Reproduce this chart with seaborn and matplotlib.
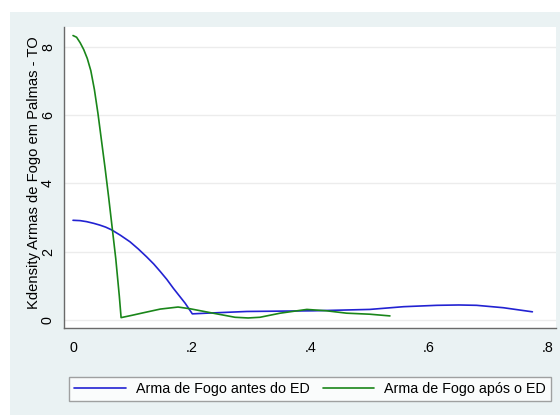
import matplotlib
matplotlib.use("Agg")
import matplotlib.pyplot as plt
from matplotlib.patches import Rectangle
import pandas as pd
import seaborn as sns

# Kernel density estimates (x = rate, y = density)
antes_x = [0.0, 0.012, 0.023, 0.035, 0.045, 0.055, 0.065, 0.08, 0.096, 0.11,
           0.124, 0.136, 0.147, 0.158, 0.169, 0.179, 0.189, 0.196, 0.201,
           0.225, 0.293, 0.405, 0.5, 0.557, 0.613, 0.65, 0.68, 0.725, 0.774]
antes_y = [2.92, 2.91, 2.88, 2.83, 2.78, 2.72, 2.64, 2.48, 2.29, 2.08,
           1.85, 1.64, 1.42, 1.19, 0.93, 0.71, 0.49, 0.31, 0.18,
           0.20, 0.25, 0.27, 0.31, 0.39, 0.43, 0.44, 0.43, 0.36, 0.24]

apos_x = [0.0, 0.006, 0.012, 0.018, 0.024, 0.03, 0.036, 0.042, 0.048, 0.054,
          0.06, 0.066, 0.072, 0.078, 0.081, 0.10, 0.118, 0.147, 0.177, 0.197,
          0.236, 0.273, 0.295, 0.315, 0.349, 0.394, 0.427, 0.461, 0.5, 0.534]
apos_y = [8.33, 8.28, 8.12, 7.92, 7.66, 7.3, 6.75, 6.05, 5.25, 4.45,
          3.6, 2.7, 1.8, 0.7, 0.07, 0.14, 0.21, 0.32, 0.38, 0.33,
          0.20, 0.08, 0.06, 0.08, 0.20, 0.31, 0.27, 0.20, 0.17, 0.12]

series = ["Arma de Fogo antes do ED", "Arma de Fogo após o ED"]
x_ticks = [0, 0.2, 0.4, 0.6, 0.8]
x_tick_labels = ["0", ".2", ".4", ".6", ".8"]
y_ticks = [0, 2, 4, 6, 8]
y_tick_labels = ["0", "2", "4", "6", "8"]
y_label = "Kdensity Armas de Fogo em Palmas - TO"

df = pd.concat([
    pd.DataFrame({"x": antes_x, "y": antes_y, "serie": series[0]}),
    pd.DataFrame({"x": apos_x, "y": apos_y, "serie": series[1]}),
], ignore_index=True)

sns.set_theme(style="white")
plt.rcParams["font.family"] = ["Liberation Sans", "DejaVu Sans"]

W, H = 560, 415
fig = plt.figure(figsize=(W / 100, H / 100), dpi=100, facecolor="white")
fig.patches.append(Rectangle((10 / W, 0), 1 - 10 / W, 1 - 12 / H,
                             transform=fig.transFigure, facecolor="#eaf2f3",
                             edgecolor="none", zorder=-10))

ax = fig.add_axes([64 / W, 1 - 328 / H, (556 - 64) / W, (328 - 27) / H])
ax.set_facecolor("white")

colors = ["#2222d2", "#1a861a"]
sns.lineplot(data=df, x="x", y="y", hue="serie", palette=colors,
             estimator=None, sort=False, linewidth=1.2, ax=ax, legend=False)

ax.set_xlim(-0.0152, 0.8138)
ax.set_ylim(-0.234, 8.58)
ax.set_xticks(x_ticks)
ax.set_xticklabels(x_tick_labels)
ax.set_yticks(y_ticks)
ax.set_yticklabels(y_tick_labels, rotation=90, va="center")

ax.yaxis.grid(True, color="#ececec", linewidth=1.0)
ax.xaxis.grid(False)
ax.set_axisbelow(True)

for side in ["top", "right"]:
    ax.spines[side].set_visible(False)
for side in ["left", "bottom"]:
    ax.spines[side].set_color("#6a6a6a")
    ax.spines[side].set_linewidth(1.0)

ax.tick_params(axis="both", direction="out", length=5, width=1.0,
               color="#6a6a6a", labelsize=10.3, labelcolor="black")
ax.tick_params(axis="x", pad=4)
ax.tick_params(axis="y", pad=1.5)
ax.set_xlabel("")
ax.set_ylabel(y_label, fontsize=10.6, color="black")
ax.yaxis.set_label_coords(-0.046, 0.517)

handles = ax.get_lines()[:2]
leg = fig.legend(handles, series, loc="lower left",
                 bbox_to_anchor=(69 / W, 1 - 401 / H, (551 - 69) / W, 26 / H),
                 mode="expand", ncol=2, frameon=True, fancybox=False,
                 fontsize=10.3, handlelength=3.6, handletextpad=0.7,
                 borderaxespad=0, borderpad=0.35, columnspacing=1.0)
leg.get_frame().set_edgecolor("#8a8a8a")
leg.get_frame().set_linewidth(1.0)
leg.get_frame().set_facecolor("white")
for t in leg.get_texts():
    t.set_color("black")

fig.savefig("out.png", dpi=100, facecolor=fig.get_facecolor())
